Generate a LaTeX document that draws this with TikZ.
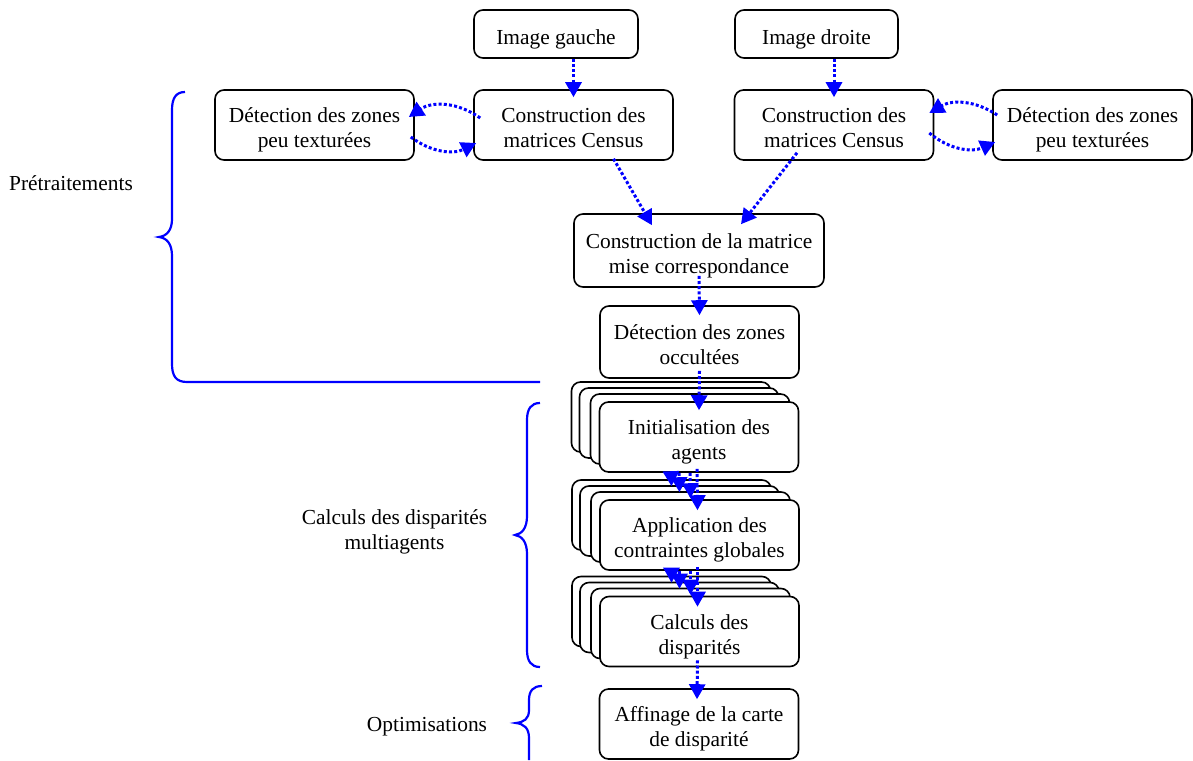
\documentclass[tikz,border=0pt]{standalone}
\usepackage{fontspec}
\setmainfont{Liberation Serif}
\usetikzlibrary{arrows.meta}
\definecolor{flow}{RGB}{0,0,255}
% box caption: centred lines, set a little below the box centre
\newcommand{\capt}[1]{\raisebox{-10.5pt}[0pt][0pt]{\begin{tabular}{@{}c@{}}#1\end{tabular}}}
\begin{document}
\begin{tikzpicture}[x=1pt,y=-1pt,
  box/.style={draw=black,line width=1.6pt,rounded corners=9pt,fill=white,
    inner sep=0pt,minimum width=199pt,minimum height=70pt,
    font=\fontsize{21.4}{25}\selectfont},
  lbl/.style={align=center,inner sep=0pt,font=\fontsize{21.4}{25}\selectfont},
  arr/.style={draw=flow,line width=3pt,dash pattern=on 3pt off 2.2pt,
    -{Triangle[length=15pt,width=16pt]}},
  brace/.style={draw=flow,line width=2.2pt}]
\useasboundingbox (0,0) rectangle (1193,760);

% stack of four overlapping boxes, front one carries the text
\newcommand{\agentstack}[4]{%
  \node[box] (#1c) at ({#2-28},{#3-20}) {};
  \node[box] (#1b) at ({#2-20},{#3-14}) {};
  \node[box] (#1a) at ({#2-9},{#3-8}) {};
  \node[box] (#1) at (#2,#3) {\capt{#4}};}

% top row
\node[box,minimum width=164pt,minimum height=48pt] (imgL) at (556,34) {\capt{Image gauche}};
\node[box,minimum width=163pt,minimum height=48pt] (imgR) at (816.5,34) {\capt{Image droite}};
\node[box] (detL) at (314.5,125) {\capt{Détection des zones\\peu texturées}};
\node[box] (cenL) at (573.5,125) {\capt{Construction des\\matrices Census}};
\node[box] (cenR) at (834,125) {\capt{Construction des\\matrices Census}};
\node[box] (detR) at (1092.5,125) {\capt{Détection des zones\\peu texturées}};

% central column
\node[box,minimum width=250pt,minimum height=73pt] (mat) at (699,250.5) {\capt{Construction de la matrice\\mise correspondance}};
\node[box,minimum height=72pt] (occ) at (699.5,342) {\capt{Détection des zones\\occultées}};
\agentstack{init}{699}{437}{Initialisation des\\agents}
\agentstack{app}{699.5}{535}{Application des\\contraintes globales}
\agentstack{calc}{699.5}{631.5}{Calculs des\\disparités}
\node[box] (aff) at (699,724) {\capt{Affinage de la carte\\de disparité}};

% connectors
\draw[arr] (cenL.north |- imgL.south) -- ([yshift=-8pt]cenL.north);
\draw[arr] (cenR.north |- imgR.south) -- ([yshift=-8pt]cenR.north);
\draw[arr] ([xshift=7pt,yshift=7pt]cenL.west) to[bend right=35] ([xshift=-6pt,yshift=8pt]detL.east);
\draw[arr] ([xshift=-4pt,yshift=-12pt]detL.east) to[bend right=32] ([xshift=3pt,yshift=-18pt]cenL.west);
\draw[arr] ([xshift=5pt,yshift=10pt]detR.west) to[bend right=32] ([xshift=-5pt,yshift=12pt]cenR.east);
\draw[arr] ([xshift=-5pt,yshift=-8pt]cenR.east) to[bend right=32] ([xshift=3pt,yshift=-17pt]detR.west);
\draw[arr] ([xshift=40pt,yshift=2pt]cenL.south) -- ([xshift=-47pt,yshift=-12pt]mat.north);
\draw[arr] ([xshift=-37pt,yshift=8pt]cenR.south) -- ([xshift=42pt,yshift=-11pt]mat.north);
\draw[arr] ([yshift=12pt]mat.south) -- ([yshift=-10pt]occ.north);
\draw[arr] ([yshift=8pt]occ.south) -- ([yshift=-9pt]init.north);
\foreach \up/\dn in {init/app,app/calc}{
  \draw[arr] (\up c.south |- \up.south) -- ([yshift=-7pt]\dn c.north);
  \draw[arr] (\up b.south |- \up.south) -- ([yshift=-7pt]\dn b.north);
  \draw[arr] (\up a.south |- \up.south) -- ([yshift=-7pt]\dn a.north);
  \draw[arr] ([xshift=-2pt,yshift=4pt]\up.south) -- ([xshift=-2pt,yshift=-11pt]\dn.north);
}
\draw[arr] ([xshift=-2pt,yshift=7pt]calc.south) -- ([xshift=-2pt,yshift=-11pt]aff.north);

% braces grouping the stages
\draw[brace] (185,92) .. controls (176,92) and (172,98) .. (172,110) -- (172,219)
  .. controls (172,230) and (167,236) .. (159,237)
  .. controls (167,238) and (172,244) .. (172,256) -- (172,364)
  .. controls (172,376) and (176,382) .. (187,382) -- (540,382);
\draw[brace] (540,403) .. controls (531,403) and (527,409) .. (527,420) -- (527,516)
  .. controls (527,528) and (522,534) .. (515,535)
  .. controls (522,536) and (527,542) .. (527,554) -- (527,650)
  .. controls (527,661) and (531,667) .. (540,667);
\draw[brace] (542,686) .. controls (533,686) and (529,691) .. (529,700) -- (529,710)
  .. controls (529,719) and (524,722) .. (516,723)
  .. controls (524,724) and (529,728) .. (529,738) -- (529,760);

\node[lbl] (preLbl) at (71,183) {Prétraitements};
\node[lbl] (calcLbl) at (394.5,532) {Calculs des disparités\\multiagents};
\node[lbl] (optLbl) at (427,727) {Optimisations};
\end{tikzpicture}
\end{document}
